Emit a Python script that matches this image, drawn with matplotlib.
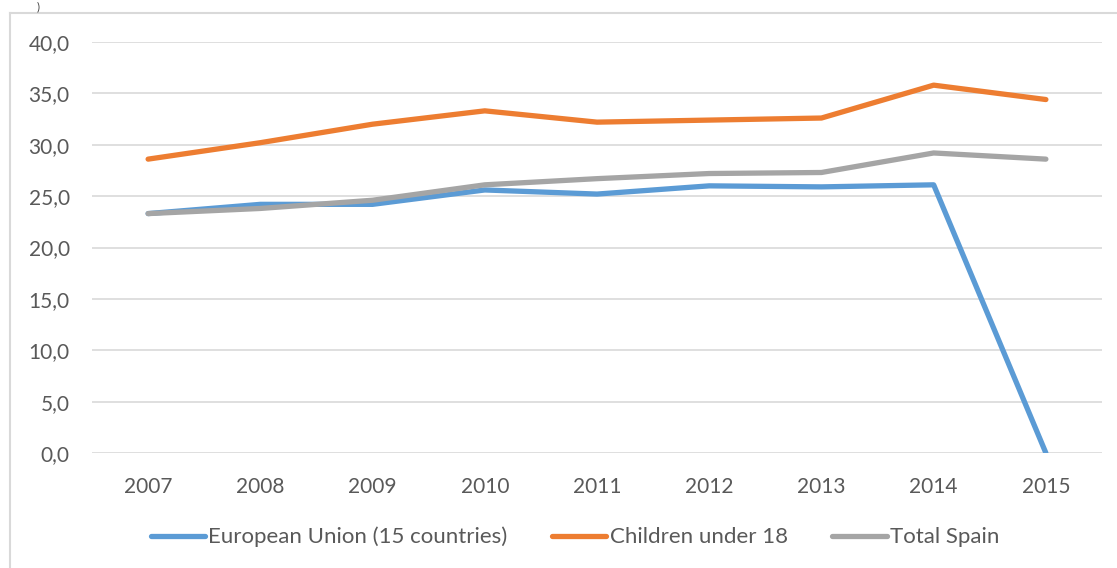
import matplotlib
matplotlib.use("Agg")
import matplotlib.pyplot as plt
from matplotlib.ticker import FuncFormatter, MultipleLocator
from matplotlib.lines import Line2D

years = ["2007", "2008", "2009", "2010", "2011", "2012", "2013", "2014", "2015"]
eu15 = [23.3, 24.2, 24.2, 25.6, 25.2, 26.0, 25.9, 26.1, 0.0]
children = [28.6, 30.2, 32.0, 33.3, 32.2, 32.4, 32.6, 35.8, 34.4]
total_spain = [23.3, 23.8, 24.6, 26.1, 26.7, 27.2, 27.3, 29.2, 28.6]
labels = ["European Union (15 countries)", "Children under 18", "Total Spain"]
colors = ["#5B9BD5", "#ED7D31", "#A5A5A5"]

plt.rcParams["font.family"] = ["Lato", "DejaVu Sans"]
text_color = "#595959"

W, H = 1117, 568
fig = plt.figure(figsize=(W / 100, H / 100), dpi=100)

# outer chart border (only top and left visible, rest is cut off)
fig.add_artist(Line2D([10 / W, 10 / W], [0, 1 - 13 / H], color="#d9d9d9", lw=1.5))
fig.add_artist(Line2D([10 / W, 1], [1 - 13 / H, 1 - 13 / H], color="#d9d9d9", lw=1.5))
# fragment of a title above the chart
fig.text(38 / W, 1 - 1 / H, ")", fontsize=8, color="#404040", ha="center", va="top")

ax = fig.add_axes([92 / W, (H - 453) / H, (1102 - 92) / W, (453 - 42) / H])
x = range(len(years))
for series, c in zip([eu15, children, total_spain], colors):
    ax.plot(x, series, color=c, lw=3.8, solid_capstyle="round", solid_joinstyle="round")

ax.set_xlim(-0.5, len(years) - 0.5)
ax.set_ylim(0, 40)
ax.yaxis.set_major_locator(MultipleLocator(5))
ax.yaxis.set_major_formatter(FuncFormatter(lambda v, p: f"{v:.1f}".replace(".", ",")))
ax.set_xticks(list(x))
ax.set_xticklabels(years)
ax.grid(axis="y", color="#d9d9d9", lw=1.2)
ax.set_axisbelow(True)
for s in ax.spines.values():
    s.set_visible(False)
ax.tick_params(length=0, labelsize=15, labelcolor=text_color)
ax.tick_params(axis="y", pad=16)
ax.tick_params(axis="x", pad=17)

handles = [Line2D([], [], color=c, lw=3.8, solid_capstyle="round") for c in colors]
fig.legend(handles, labels, loc="center", bbox_to_anchor=(575 / W, 1 - 537 / H), ncol=3,
           frameon=False, fontsize=16, labelcolor=text_color, handlelength=2.45,
           handletextpad=0.15, columnspacing=2.0)

fig.savefig("out.png", dpi=100)
